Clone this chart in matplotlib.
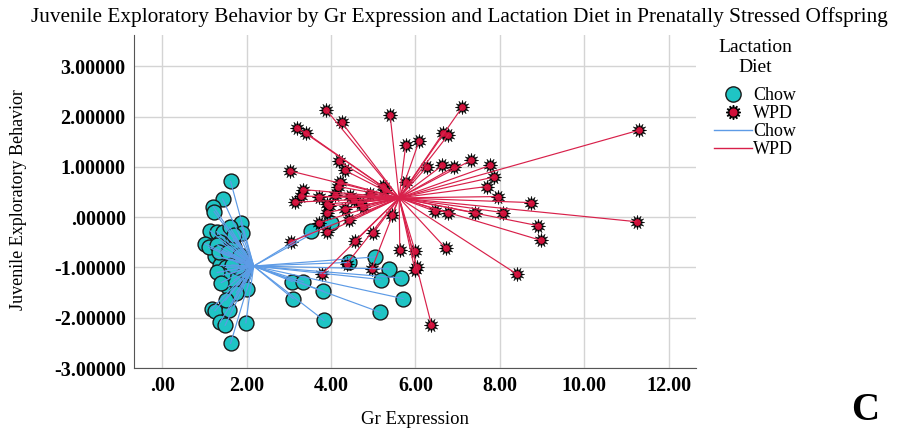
import matplotlib
matplotlib.use("Agg")
import matplotlib.pyplot as plt
import numpy as np
from matplotlib.lines import Line2D
from matplotlib.legend_handler import HandlerTuple

plt.rcParams['font.family'] = ['Liberation Serif', 'DejaVu Serif']

# Chow group (Gr expression, juvenile exploratory behaviour)
chow_x = [1.62, 1.43, 1.21, 1.23, 1.86, 1.13, 1.29, 1.45, 1.88, 1.01, 1.37, 1.68, 1.25,
          1.41, 1.60, 1.37, 1.53, 1.60, 1.92, 1.56, 1.88, 2.01, 1.17, 1.25, 1.59, 1.37,
          1.49, 1.98, 1.62, 1.10, 1.40, 1.70, 1.75, 1.70, 1.30, 1.50, 1.80, 1.35, 1.55,
          1.45, 1.65, 1.85, 1.30, 1.75, 1.40, 1.60, 1.50, 1.70,
          3.52, 4.01, 3.08, 3.34, 3.82, 3.10, 3.83, 4.42, 5.05, 5.37, 5.18, 5.67, 5.71, 5.16]
chow_y = [0.71, 0.36, 0.21, 0.11, -0.11, -0.27, -0.29, -0.30, -0.32, -0.53, -0.49, -0.44, -0.77,
          -0.80, -0.83, -0.96, -1.06, -1.13, -1.13, -1.38, -1.35, -1.43, -1.82, -1.86, -1.84, -2.09,
          -2.15, -2.10, -2.51, -0.60, -0.65, -0.60, -0.90, -1.25, -0.55, -1.00, -1.00, -0.70, -0.70,
          -1.15, -0.95, -0.75, -1.10, -1.50, -1.30, -0.20, -1.65, -0.35,
          -0.28, -0.12, -1.28, -1.28, -1.47, -1.62, -2.05, -0.90, -0.79, -1.03, -1.24, -1.21, -1.62, -1.89]

# WPD group
wpd_x = [3.88, 4.25, 3.20, 3.40, 5.40, 7.11, 6.66, 6.78, 5.77, 6.09, 11.30,
         3.03, 4.19, 4.33, 6.27, 6.64, 6.92, 7.32, 7.77, 7.87, 7.69, 7.96,
         8.75, 11.24, 8.91, 8.97, 8.08, 7.41, 6.78, 6.46, 6.72, 8.40, 5.63, 5.99, 6.03, 5.99, 6.38,
         5.44, 5.78, 5.24, 5.00, 4.57, 4.37, 4.96, 3.79, 3.04, 3.72, 3.91, 4.43,
         3.14, 3.33, 3.30, 3.72, 4.17, 4.21, 3.90, 3.96, 3.90, 4.33, 4.45, 4.92, 4.68, 5.28,
         4.55, 4.75, 4.10]
wpd_y = [2.14, 1.89, 1.78, 1.68, 2.03, 2.19, 1.68, 1.64, 1.43, 1.52, 1.73,
         0.92, 1.11, 0.93, 1.00, 1.03, 1.00, 1.13, 1.03, 0.80, 0.61, 0.41,
         0.29, -0.09, -0.17, -0.46, 0.09, 0.09, 0.08, 0.12, -0.62, -1.13, -0.65, -0.67, -1.00, -1.06, -2.14,
         0.04, 0.70, 0.63, -0.32, -0.47, -0.93, -1.04, -1.13, -0.49, -0.11, -0.30, -0.06,
         0.30, 0.55, 0.42, 0.41, 0.61, 0.70, 0.26, 0.22, 0.09, 0.16, 0.42, 0.46, 0.29, 0.55,
         0.35, 0.20, 0.45]

chow_face = '#1fc4c4'
chow_line = '#5d9be6'
wpd_face = '#d0103a'
wpd_line = '#d8204a'

fig = plt.figure(figsize=(9.01, 4.34), dpi=100)
ax = fig.add_axes([0.1487, 0.152, 0.6238, 0.767])

# markers
ax.scatter(chow_x, chow_y, s=115, marker='o', facecolor=chow_face, edgecolor='#1a1a1a',
           linewidth=1.0, zorder=3)
ax.scatter(wpd_x, wpd_y, s=110, marker=(12, 1, 0), color='black', linewidth=0.3, zorder=4)
ax.scatter(wpd_x, wpd_y, s=24, marker='o', color=wpd_face, linewidth=0, zorder=5)

# spikes to the group centroids
cx, cy = np.mean(chow_x), np.mean(chow_y)
for x, y in zip(chow_x, chow_y):
    ax.plot([cx, x], [cy, y], color=chow_line, linewidth=0.85, zorder=6)
wx, wy = np.mean(wpd_x), np.mean(wpd_y)
for x, y in zip(wpd_x, wpd_y):
    ax.plot([wx, x], [wy, y], color=wpd_line, linewidth=0.85, zorder=6)

ax.set_xlim(-0.67, 12.65)
ax.set_ylim(-3.0, 3.62)
xt = [0, 2, 4, 6, 8, 10, 12]
yt = [-3, -2, -1, 0, 1, 2, 3]
ax.set_xticks(xt)
ax.set_xticklabels(['.00', '2.00', '4.00', '6.00', '8.00', '10.00', '12.00'])
ax.set_yticks(yt)
ax.set_yticklabels(['-3.00000', '-2.00000', '-1.00000', '.00000', '1.00000', '2.00000', '3.00000'])
ax.tick_params(length=0, labelsize=14.5, pad=6)
for lab in ax.get_xticklabels() + ax.get_yticklabels():
    lab.set_fontweight('bold')
ax.grid(True, color='#d4d4d4', linewidth=1.0, zorder=0)
ax.set_axisbelow(True)
for s in ['top', 'right']:
    ax.spines[s].set_visible(False)
for s in ['left', 'bottom']:
    ax.spines[s].set_color('#555555')
    ax.spines[s].set_linewidth(0.8)

ax.set_xlabel('Gr Expression', fontsize=13.5)
ax.xaxis.set_label_coords(0.5, -0.13)
ax.set_ylabel('Juvenile Exploratory Behavior', fontsize=13)
ax.yaxis.set_label_coords(-0.19, 0.505)
fig.suptitle('Juvenile Exploratory Behavior by Gr Expression and Lactation Diet in Prenatally Stressed Offspring',
             fontsize=15.3, x=0.51, y=0.984)
fig.text(0.96, 0.055, 'C', fontsize=28, fontweight='bold', ha='center', va='center')

# legend
fig.text(0.838, 0.868, 'Lactation\nDiet', fontsize=14, ha='center', va='center', linespacing=1.25)
h_chow = Line2D([], [], marker='o', linestyle='none', markersize=11,
                markerfacecolor=chow_face, markeredgecolor='#1a1a1a')
h_star = Line2D([], [], marker=(12, 1, 0), linestyle='none', markersize=10.5, color='black')
h_dot = Line2D([], [], marker='o', linestyle='none', markersize=4.8, color=wpd_face)
h_cl = Line2D([], [], color=chow_line, linewidth=1)
h_wl = Line2D([], [], color=wpd_line, linewidth=1)
leg = fig.legend([h_chow, (h_star, h_dot), h_cl, h_wl], ['Chow', 'WPD', 'Chow', 'WPD'],
                 handler_map={tuple: HandlerTuple(ndivide=1)},
                 loc='upper left', bbox_to_anchor=(0.774, 0.836),
                 frameon=False, fontsize=13, handlelength=2.1,
                 handletextpad=0.1, labelspacing=0.05)

fig.savefig('out.png', dpi=100)
